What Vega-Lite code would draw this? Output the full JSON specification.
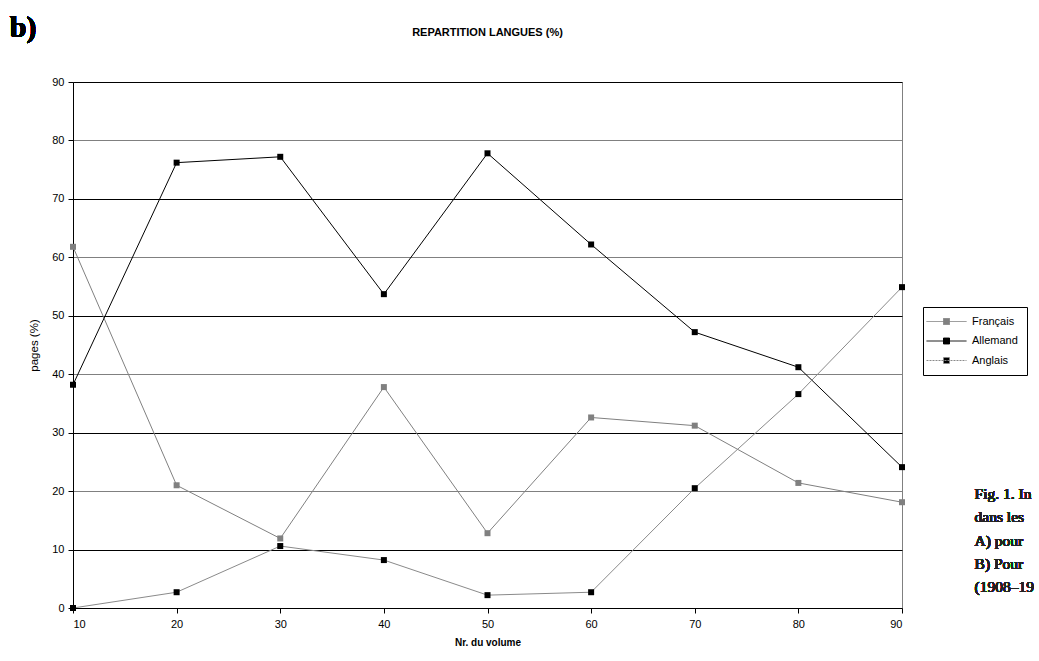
{
  "$schema": "https://vega.github.io/schema/vega-lite/v6.json",
  "autosize": "none",
  "width": 829,
  "height": 526,
  "padding": {"left": 73, "top": 82, "right": 137, "bottom": 53},
  "background": "white",
  "config": {
    "font": "Liberation Sans",
    "view": {"stroke": "#808080", "strokeWidth": 1},
    "axis": {
      "labelFont": "Liberation Sans",
      "titleFont": "Liberation Sans",
      "labelFontSize": 11,
      "labelColor": "#000",
      "domainColor": "#000",
      "tickColor": "#000",
      "tickSize": 5,
      "labelPadding": 4
    }
  },
  "title": {
    "text": "REPARTITION LANGUES (%)",
    "font": "Liberation Sans",
    "fontSize": 11,
    "fontWeight": "bold",
    "color": "#000",
    "anchor": "middle",
    "frame": "group",
    "offset": -25
  },
  "data": {
    "values": [
      {"volume": 10, "langue": "Français", "pct": 61.8},
      {"volume": 20, "langue": "Français", "pct": 21.0},
      {"volume": 30, "langue": "Français", "pct": 11.9},
      {"volume": 40, "langue": "Français", "pct": 37.8},
      {"volume": 50, "langue": "Français", "pct": 12.8},
      {"volume": 60, "langue": "Français", "pct": 32.6},
      {"volume": 70, "langue": "Français", "pct": 31.2},
      {"volume": 80, "langue": "Français", "pct": 21.4},
      {"volume": 90, "langue": "Français", "pct": 18.1},
      {"volume": 10, "langue": "Allemand", "pct": 38.2},
      {"volume": 20, "langue": "Allemand", "pct": 76.2},
      {"volume": 30, "langue": "Allemand", "pct": 77.2},
      {"volume": 40, "langue": "Allemand", "pct": 53.7},
      {"volume": 50, "langue": "Allemand", "pct": 77.8},
      {"volume": 60, "langue": "Allemand", "pct": 62.2},
      {"volume": 70, "langue": "Allemand", "pct": 47.2},
      {"volume": 80, "langue": "Allemand", "pct": 41.2},
      {"volume": 90, "langue": "Allemand", "pct": 24.1},
      {"volume": 10, "langue": "Anglais", "pct": 0.0},
      {"volume": 20, "langue": "Anglais", "pct": 2.7},
      {"volume": 30, "langue": "Anglais", "pct": 10.6},
      {"volume": 40, "langue": "Anglais", "pct": 8.2},
      {"volume": 50, "langue": "Anglais", "pct": 2.2},
      {"volume": 60, "langue": "Anglais", "pct": 2.7},
      {"volume": 70, "langue": "Anglais", "pct": 20.5},
      {"volume": 80, "langue": "Anglais", "pct": 36.6},
      {"volume": 90, "langue": "Anglais", "pct": 54.9}
    ]
  },
  "encoding": {
    "x": {
      "field": "volume",
      "type": "quantitative",
      "scale": {"domain": [10, 90], "nice": false, "zero": false},
      "axis": {
        "values": [10, 20, 30, 40, 50, 60, 70, 80, 90],
        "grid": false,
        "title": "Nr. du volume",
        "titleFontSize": 10,
        "titleFontWeight": "bold",
        "titleColor": "#000",
        "titlePadding": 8,
        "labelPadding": 5
      }
    },
    "y": {
      "field": "pct",
      "type": "quantitative",
      "scale": {"domain": [0, 90], "nice": false},
      "axis": {
        "values": [0, 10, 20, 30, 40, 50, 60, 70, 80, 90],
        "grid": true,
        "gridColor": {"condition": {"test": "datum.value % 20 == 0", "value": "#808080"}, "value": "#000000"},
        "gridWidth": 1,
        "title": "pages (%)",
        "titleFontSize": 11.5,
        "titleFontWeight": "normal",
        "titleColor": "#000",
        "titlePadding": 12
      }
    }
  },
  "layer": [
    {
      "mark": {"type": "line", "strokeWidth": 1},
      "encoding": {
        "stroke": {
          "field": "langue",
          "type": "nominal",
          "scale": {"domain": ["Français", "Allemand", "Anglais"], "range": ["#808080", "#000000", "#8a8a8a"]},
          "legend": {
            "title": null,
            "orient": "none",
            "legendX": 850,
            "legendY": 225,
            "padding": 9,
            "fillColor": "white",
            "strokeColor": "#000",
            "labelFont": "Liberation Sans",
            "labelFontSize": 11,
            "labelColor": "#000",
            "labelOffset": 20,
            "symbolOffset": 9,
            "rowPadding": 7.5,
            "symbolType": "M-6.667,0H6.667M-1,-1H1V1H-1Z",
            "symbolSize": 36,
            "symbolStrokeWidth": 1,
            "encode": {
              "symbols": {
                "update": {
                  "fill": {"scale": "fill", "field": "value"},
                  "fillOpacity": {"value": 1},
                  "strokeDash": {"signal": "datum.value === 'Anglais' ? [2, 1] : [1, 0]"}
                }
              }
            }
          }
        }
      }
    },
    {
      "mark": {"type": "point", "shape": "square", "filled": true, "size": 36, "opacity": 1},
      "encoding": {
        "fill": {
          "field": "langue",
          "type": "nominal",
          "scale": {"domain": ["Français", "Allemand", "Anglais"], "range": ["#808080", "#000000", "#000000"]},
          "legend": null
        }
      }
    },
    {
      "mark": {"type": "text", "align": "left", "baseline": "middle", "font": "Liberation Serif", "fontSize": 30, "fontWeight": "bold", "color": "#000", "clip": false},
      "encoding": {
        "x": {"datum": 3.9},
        "y": {"datum": 99.2},
        "text": {"value": "b)"}
      }
    },
    {
      "mark": {"type": "text", "align": "left", "baseline": "middle", "font": "Liberation Serif", "fontSize": 15.5, "fontWeight": "normal", "color": "#222", "lineHeight": 23.3, "clip": false},
      "encoding": {
        "x": {"datum": 97.0},
        "y": {"datum": 19.5},
        "text": {"value": ["Fig. 1. In", "dans les", "A) pour", "B) Pour", "(1908–19"]}
      }
    }
  ]
}
